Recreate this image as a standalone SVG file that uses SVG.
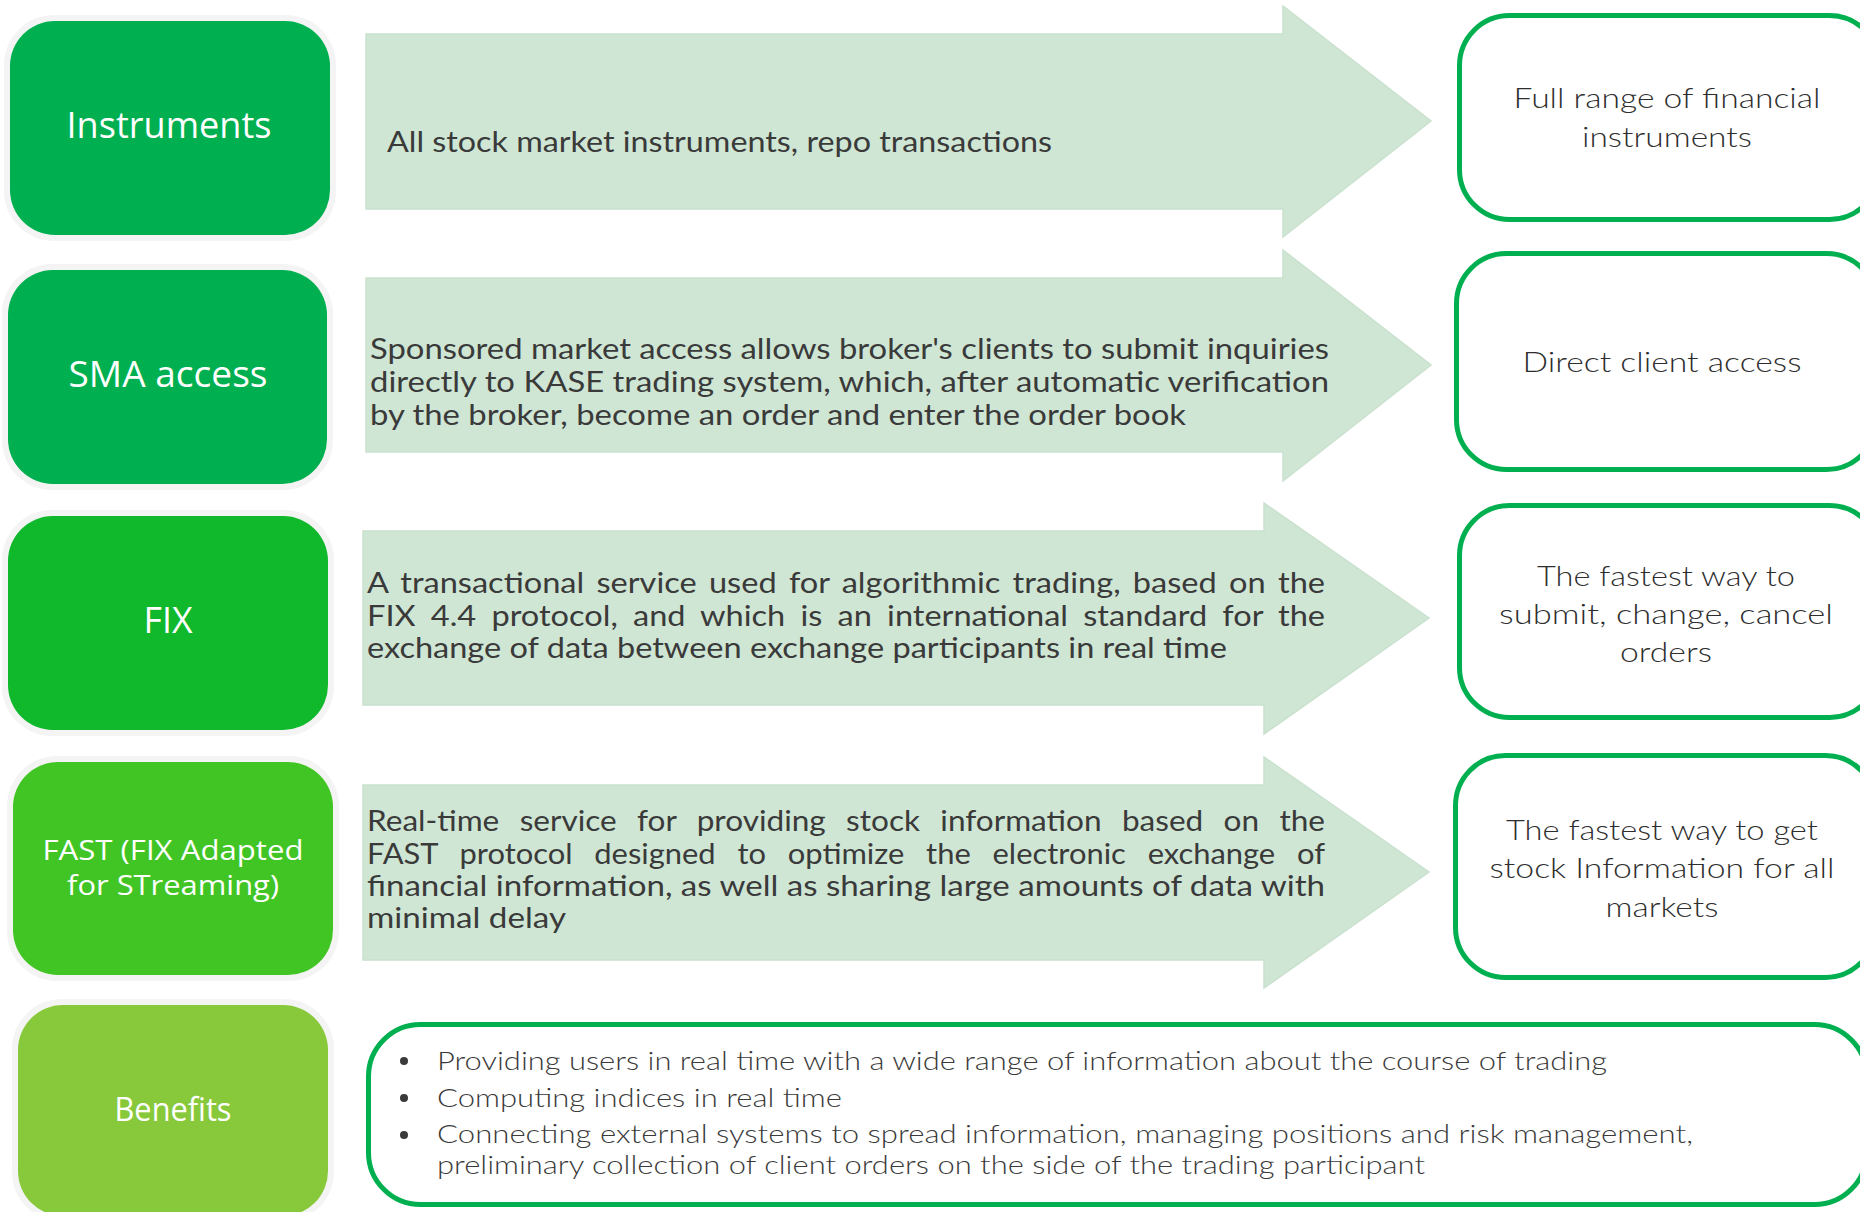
<svg xmlns="http://www.w3.org/2000/svg" width="1860" height="1212" viewBox="0 0 1860 1212">
<style>
.halo{fill:#f4f4f4}
.lbl{font-family:"Open Sans","Noto Sans","Liberation Sans",sans-serif;fill:#ffffff;text-anchor:middle}
.arrow{fill:#cfe6d4;stroke:#c9e1ce;stroke-width:1.5}
.desc{font-family:Lato,"Open Sans","Liberation Sans",sans-serif;font-size:28px;fill:#3a3a3a}
.res{fill:#ffffff;stroke:#00b050;stroke-width:5}
.rtxt{font-family:Lato,"Open Sans","Liberation Sans",sans-serif;font-weight:300;font-size:28px;fill:#2e2e2e;text-anchor:middle}
.btxt{font-family:Lato,"Open Sans","Liberation Sans",sans-serif;font-weight:300;font-size:26px;fill:#3a3a3a}
</style>
<rect width="1860" height="1212" fill="#ffffff"/>

<g id="connectors">
  <polygon class="arrow" points="366,34 1283,34 1283,6 1431,121 1283,237 1283,209 366,209"/>
  <polygon class="arrow" points="366,278 1283,278 1283,250 1431,365 1283,481 1283,452 366,452"/>
  <polygon class="arrow" points="363,531 1264,531 1264,503 1429,618 1264,734 1264,705 363,705"/>
  <polygon class="arrow" points="363,785 1264,785 1264,757 1429,872 1264,988 1264,960 363,960"/>
</g>

<g id="node-instruments">
  <rect class="halo" x="4" y="15" width="332" height="226" rx="50"/>
  <rect x="10" y="21" width="320" height="214" rx="45" fill="#00af4f"/>
  <text class="lbl" x="169" y="138" font-size="36" textLength="205" lengthAdjust="spacingAndGlyphs">Instruments</text>
</g>
<g id="node-sma">
  <rect class="halo" x="2" y="264" width="331" height="226" rx="50"/>
  <rect x="8" y="270" width="319" height="214" rx="45" fill="#00af4f"/>
  <text class="lbl" x="168" y="387" font-size="36" textLength="199" lengthAdjust="spacingAndGlyphs">SMA access</text>
</g>
<g id="node-fix">
  <rect class="halo" x="2" y="510" width="332" height="226" rx="50"/>
  <rect x="8" y="516" width="320" height="214" rx="45" fill="#0fb92b"/>
  <text class="lbl" x="168" y="633" font-size="36" textLength="49" lengthAdjust="spacingAndGlyphs">FIX</text>
</g>
<g id="node-fast">
  <rect class="halo" x="7" y="756" width="332" height="225" rx="50"/>
  <rect x="13" y="762" width="320" height="213" rx="45" fill="#41c524"/>
  <text class="lbl" x="173" y="860" font-size="28" textLength="261" lengthAdjust="spacingAndGlyphs">FAST (FIX Adapted</text>
  <text class="lbl" x="173" y="895" font-size="28" textLength="212" lengthAdjust="spacingAndGlyphs">for STreaming)</text>
</g>
<g id="node-benefits">
  <rect class="halo" x="12" y="999" width="322" height="223" rx="50"/>
  <rect x="18" y="1005" width="310" height="211" rx="45" fill="#88c93c"/>
  <text class="lbl" x="173" y="1121" font-size="32" textLength="117" lengthAdjust="spacingAndGlyphs">Benefits</text>
</g>

<g id="desc-instruments">
  <text class="desc" x="387" y="152" textLength="665" lengthAdjust="spacingAndGlyphs">All stock market instruments, repo transactions</text>
</g>
<g id="desc-sma">
  <text class="desc" x="370" y="359" textLength="959" lengthAdjust="spacingAndGlyphs">Sponsored market access allows broker's clients to submit inquiries</text>
  <text class="desc" x="370" y="392" textLength="959" lengthAdjust="spacingAndGlyphs">directly to KASE trading system, which, after automatic verification</text>
  <text class="desc" x="370" y="425" textLength="816" lengthAdjust="spacingAndGlyphs">by the broker, become an order and enter the order book</text>
</g>
<g id="desc-fix">
  <text class="desc" x="367" y="593" word-spacing="3.4" textLength="958" lengthAdjust="spacingAndGlyphs">A transactional service used for algorithmic trading, based on the</text>
  <text class="desc" x="367" y="626" word-spacing="5.9" textLength="958" lengthAdjust="spacingAndGlyphs">FIX 4.4 protocol, and which is an international standard for the</text>
  <text class="desc" x="367" y="658" textLength="860" lengthAdjust="spacingAndGlyphs">exchange of data between exchange participants in real time</text>
</g>
<g id="desc-fast">
  <text class="desc" x="367" y="831" word-spacing="10.9" textLength="958" lengthAdjust="spacingAndGlyphs">Real-time service for providing stock information based on the</text>
  <text class="desc" x="367" y="864" word-spacing="12.6" textLength="958" lengthAdjust="spacingAndGlyphs">FAST protocol designed to optimize the electronic exchange of</text>
  <text class="desc" x="367" y="896" textLength="958" lengthAdjust="spacingAndGlyphs">financial information, as well as sharing large amounts of data with</text>
  <text class="desc" x="367" y="928" textLength="199" lengthAdjust="spacingAndGlyphs">minimal delay</text>
</g>

<g id="result-instruments">
  <rect class="res" x="1459.5" y="15.5" width="420" height="204" rx="50"/>
  <text class="rtxt" x="1667" y="108" textLength="307" lengthAdjust="spacingAndGlyphs">Full range of financial</text>
  <text class="rtxt" x="1667" y="147" textLength="170" lengthAdjust="spacingAndGlyphs">instruments</text>
</g>
<g id="result-sma">
  <rect class="res" x="1456.5" y="253.5" width="420" height="216" rx="50"/>
  <text class="rtxt" x="1662" y="372" textLength="279" lengthAdjust="spacingAndGlyphs">Direct client access</text>
</g>
<g id="result-fix">
  <rect class="res" x="1459.5" y="505.5" width="420" height="212" rx="50"/>
  <text class="rtxt" x="1666" y="586" textLength="258" lengthAdjust="spacingAndGlyphs">The fastest way to</text>
  <text class="rtxt" x="1666" y="624" textLength="334" lengthAdjust="spacingAndGlyphs">submit, change, cancel</text>
  <text class="rtxt" x="1666" y="662" textLength="92" lengthAdjust="spacingAndGlyphs">orders</text>
</g>
<g id="result-fast">
  <rect class="res" x="1455.5" y="755.5" width="420" height="222" rx="50"/>
  <text class="rtxt" x="1662" y="840" textLength="312" lengthAdjust="spacingAndGlyphs">The fastest way to get</text>
  <text class="rtxt" x="1662" y="878" textLength="345" lengthAdjust="spacingAndGlyphs">stock Information for all</text>
  <text class="rtxt" x="1662" y="917" textLength="113" lengthAdjust="spacingAndGlyphs">markets</text>
</g>
<g id="result-benefits">
  <rect class="res" x="368.5" y="1024.5" width="1498" height="180" rx="52"/>
  <circle cx="404" cy="1061" r="4" fill="#3a3a3a"/>
  <circle cx="404" cy="1098" r="4" fill="#3a3a3a"/>
  <circle cx="404" cy="1135" r="4" fill="#3a3a3a"/>
  <text class="btxt" x="437" y="1070" textLength="1170" lengthAdjust="spacingAndGlyphs">Providing users in real time with a wide range of information about the course of trading</text>
  <text class="btxt" x="437" y="1107" textLength="405" lengthAdjust="spacingAndGlyphs">Computing indices in real time</text>
  <text class="btxt" x="437" y="1143" textLength="1256" lengthAdjust="spacingAndGlyphs">Connecting external systems to spread information, managing positions and risk management,</text>
  <text class="btxt" x="437" y="1174" textLength="988" lengthAdjust="spacingAndGlyphs">preliminary collection of client orders on the side of the trading participant</text>
</g>
</svg>
